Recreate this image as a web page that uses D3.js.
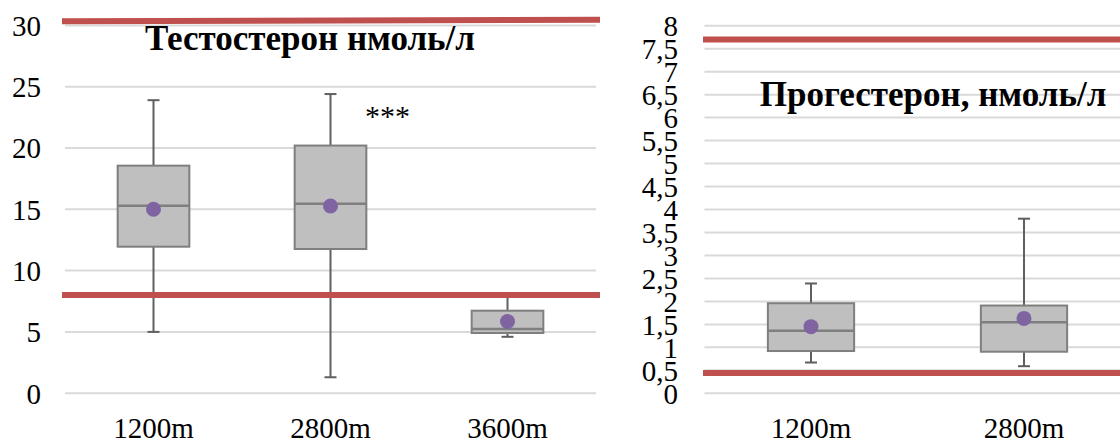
<!DOCTYPE html>
<html>
<head>
<meta charset="utf-8">
<script src="https://cdn.jsdelivr.net/npm/d3@7"></script>
<style>
  body { margin: 0; background: #fff; }
  svg { display: block; }
  svg text { font-family: 'Liberation Serif', 'Times New Roman', serif; fill: #000; }
</style>
</head>
<body>
<div id="charts"></div>
<script>
// categories (altitudes)
var categories = ["1200m", "2800m", "3600m"];

// testosterone, nmol/l  (box stats)
var testoMin    = [5.0, 1.3, 4.6];
var testoQ1     = [11.95, 11.76, 4.91];
var testoMedian = [15.28, 15.46, 5.24];
var testoQ3     = [18.56, 20.2, 6.73];
var testoMax    = [23.9, 24.4, 7.9];
var testoMean   = [15.0, 15.27, 5.85];
var testoTicks  = [0, 5, 10, 15, 20, 25, 30];
var testoRefLines = [[30.33, 30.46], [8.0, 8.0]];  // [start, end] value of each red line

// progesterone, nmol/l (3600m is off the right edge)
var progMin    = [0.67, 0.59];
var progQ1     = [0.92, 0.905];
var progMedian = [1.36, 1.545];
var progQ3     = [1.96, 1.91];
var progMax    = [2.39, 3.80];
var progMean   = [1.45, 1.63];
var progTicks  = [0, 0.5, 1, 1.5, 2, 2.5, 3, 3.5, 4, 4.5, 5, 5.5, 6, 6.5, 7, 7.5, 8];
var progRefLines = [[7.7, 7.7], [0.44, 0.44]];

var W = 1120, H = 442;
var serif = "'Liberation Serif', 'Times New Roman', serif";
var svg = d3.select("#charts").append("svg")
  .attr("width", W)
  .attr("height", H);

function makeBoxChart(opt) {
  var g = svg.append("g");

  var x = d3.scaleBand()
    .domain(categories)
    .range([opt.left, opt.right])
    .paddingInner(0)
    .paddingOuter(0);

  var y = d3.scaleLinear()
    .domain([0, opt.yMax])
    .range([opt.bottom, opt.top]);

  // gridlines
  g.append("g").selectAll("line")
    .data(opt.ticks)
    .enter()
    .append("line")
      .attr("x1", opt.left)
      .attr("x2", opt.gridRight)
      .attr("y1", function(d){ return y(d) })
      .attr("y2", function(d){ return y(d) })
      .style("stroke", "#d9d9d9")
      .style("stroke-width", 2)

  // y axis, no domain line / no ticks marks
  var yAxis = g.append("g")
    .attr("transform", "translate(" + opt.labelX + ",0)")
    .call(d3.axisLeft(y).tickValues(opt.ticks).tickSize(0).tickPadding(0)
      .tickFormat(function(d){ return String(d).replace(".", ",") }));
  yAxis.attr("font-family", serif).attr("font-size", 29);
  yAxis.select(".domain").remove();
  yAxis.selectAll("text")
    .style("font-family", serif)
    .style("font-size", "29px")
    .attr("dy", "0.34em");

  // x axis labels
  var xAxis = g.append("g")
    .attr("transform", "translate(0," + opt.xLabelY + ")")
    .call(d3.axisBottom(x).tickSize(0).tickPadding(0));
  xAxis.attr("font-family", serif).attr("font-size", 29);
  xAxis.select(".domain").remove();
  xAxis.selectAll("text")
    .style("font-family", serif)
    .style("font-size", "29px")
    .attr("dy", "0");

  var rows = opt.min.map(function(d, i){
    return {cat: categories[i], min: opt.min[i], q1: opt.q1[i], med: opt.median[i],
            q3: opt.q3[i], max: opt.max[i], mean: opt.mean[i]};
  });

  var bw = x.bandwidth() * 0.405;
  var capW = 12;

  var box = g.append("g").selectAll("g")
    .data(rows)
    .enter()
    .append("g")
      .attr("transform", function(d){ return "translate(" + (x(d.cat) + x.bandwidth()/2) + ",0)" });

  // whiskers
  box.append("line")
    .attr("y1", function(d){ return y(d.max) })
    .attr("y2", function(d){ return y(d.q3) })
    .style("stroke", "#5f5f5f").style("stroke-width", 2)
  box.append("line")
    .attr("y1", function(d){ return y(d.q1) })
    .attr("y2", function(d){ return y(d.min) })
    .style("stroke", "#5f5f5f").style("stroke-width", 2)
  box.append("line")
    .attr("x1", -capW/2).attr("x2", capW/2)
    .attr("y1", function(d){ return y(d.max) })
    .attr("y2", function(d){ return y(d.max) })
    .style("stroke", "#5f5f5f").style("stroke-width", 2)
  box.append("line")
    .attr("x1", -capW/2).attr("x2", capW/2)
    .attr("y1", function(d){ return y(d.min) })
    .attr("y2", function(d){ return y(d.min) })
    .style("stroke", "#5f5f5f").style("stroke-width", 2)

  // box
  box.append("rect")
    .attr("x", -bw/2)
    .attr("width", bw)
    .attr("y", function(d){ return y(d.q3) })
    .attr("height", function(d){ return y(d.q1) - y(d.q3) })
    .style("fill", "#bfbfbf")
    .style("stroke", "#7f7f7f")
    .style("stroke-width", 2)
  box.append("line")
    .attr("x1", -bw/2).attr("x2", bw/2)
    .attr("y1", function(d){ return y(d.med) })
    .attr("y2", function(d){ return y(d.med) })
    .style("stroke", "#7f7f7f").style("stroke-width", 2.5)

  // mean marker
  box.append("circle")
    .attr("cy", function(d){ return y(d.mean) })
    .attr("r", 7.5)
    .style("fill", "#8064a2")

  // red reference lines
  g.append("g").selectAll("line")
    .data(opt.refLines)
    .enter()
    .append("line")
      .attr("x1", opt.refLeft)
      .attr("x2", opt.refRight)
      .attr("y1", function(d){ return y(d[0]) })
      .attr("y2", function(d){ return y(d[1]) })
      .style("stroke", "#c0504d")
      .style("stroke-width", 6)

  // title
  g.append("text")
    .attr("x", opt.titleX)
    .attr("y", opt.titleY)
    .attr("text-anchor", "middle")
    .style("font-family", serif)
    .style("font-size", "35px")
    .style("font-weight", "bold")
    .text(opt.title)

  return {x: x, y: y, g: g};
}

var left = makeBoxChart({
  left: 65, right: 596, gridRight: 596, top: 25.4, bottom: 393.2, yMax: 30,
  ticks: testoTicks, labelX: 41, xLabelY: 438,
  min: testoMin, q1: testoQ1, median: testoMedian, q3: testoQ3, max: testoMax, mean: testoMean,
  refLines: testoRefLines, refLeft: 62, refRight: 600,
  title: "Тестостерон нмоль/л", titleX: 310, titleY: 50
});

// significance mark next to 2800m
left.g.append("text")
  .attr("x", left.x("2800m") + left.x.bandwidth()/2 + 57)
  .attr("y", 126)
  .attr("text-anchor", "middle")
  .style("font-family", serif)
  .style("font-size", "30px")
  .text("***")

var right = makeBoxChart({
  left: 704.5, right: 1343.5, gridRight: 1120, top: 25.7, bottom: 393.3, yMax: 8,
  ticks: progTicks, labelX: 678, xLabelY: 438,
  min: progMin, q1: progQ1, median: progMedian, q3: progQ3, max: progMax, mean: progMean,
  refLines: progRefLines, refLeft: 703, refRight: 1120,
  title: "Прогестерон, нмоль/л", titleX: 933, titleY: 106
});
</script>
</body>
</html>
